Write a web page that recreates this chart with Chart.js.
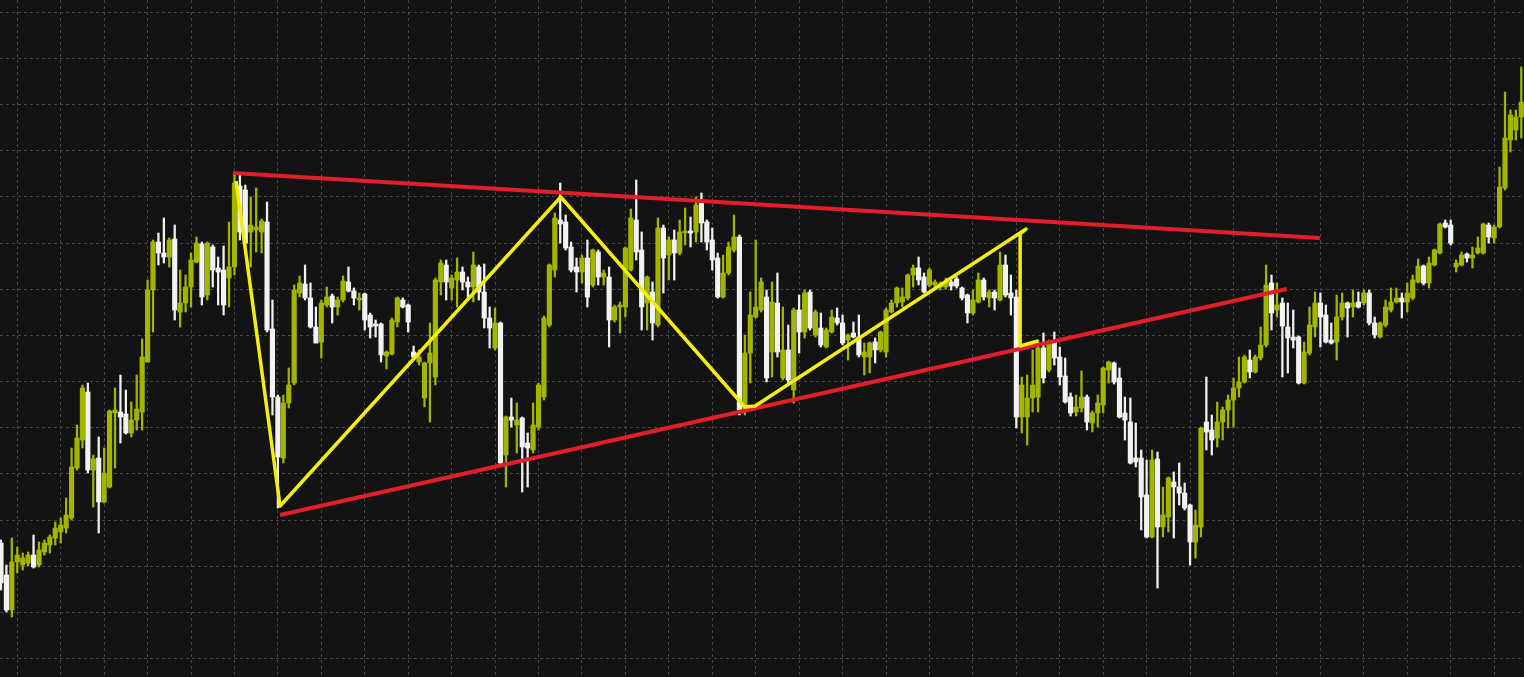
<!DOCTYPE html>
<html>
<head>
<meta charset="utf-8">
<title>Triangle breakout</title>
<script src="https://cdn.jsdelivr.net/npm/chart.js@4.4.1/dist/chart.umd.min.js"></script>
<style>
  html, body { margin: 0; padding: 0; background: #131313; overflow: hidden; }
  #wrap { width: 1524px; height: 677px; position: relative; }
</style>
</head>
<body>
<div id="wrap"><canvas id="chart"></canvas></div>
<script>
/* ═══════════════════════════════════════
   CANDLES + HAND-DRAWN PATTERN LINES
═══════════════════════════════════════ */

// ─── OHLC (points) ──────────────────────
const opens = [
  457,425,390,438,435,437,445,435,448,455,462,468,472,482,532,560,608,530,542,498,
  513,587,588,586,567,580,588,638,710,758,747,743,761,688,697,713,738,756,705,753,
  732,730,722,733,814,810,768,770,768,778,671,603,542,597,617,707,716,702,673,658,
  695,704,693,700,718,709,700,706,685,676,676,644,646,678,700,695,648,638,602,637,
  623,718,735,712,720,728,718,713,733,708,682,652,677,545,583,575,582,557,550,573,
  603,675,730,780,778,753,733,728,742,715,748,723,723,680,693,693,730,780,750,697,
  708,675,772,745,760,747,767,769,768,797,778,760,742,703,727,750,763,590,647,683,
  690,703,648,697,622,650,610,690,668,708,665,672,653,668,682,677,660,667,663,643,
  643,658,650,648,688,697,698,702,725,732,723,715,715,713,713,718,721,712,705,687,
  698,720,702,708,700,735,707,703,583,583,602,603,652,630,658,643,624,603,588,592,
  603,577,587,595,630,637,622,587,578,542,542,505,463,541,473,483,518,513,507,495,
  458,473,578,570,562,578,590,600,612,618,640,628,642,655,717,690,697,673,663,663,
  617,647,673,697,685,660,658,683,697,693,698,697,707,677,663,675,690,698,702,698,
  702,718,734,717,735,747,777,775,733,735,746,742,747,747,775,762,773,812,860,870,
  883
];
const highs = [
  460,435,462,453,447,448,465,458,460,465,478,482,502,552,575,615,617,545,563,552,
  590,612,625,610,598,625,661,720,760,767,782,762,775,730,725,747,763,758,758,755,
  743,754,778,825,825,815,803,812,781,798,700,605,605,632,715,724,735,717,693,700,
  713,706,703,724,733,712,707,707,687,680,677,649,682,703,702,696,654,650,638,677,
  722,740,740,725,742,733,723,748,735,736,693,692,678,584,602,597,583,567,597,617,
  684,736,787,817,785,758,742,745,760,751,750,730,733,695,698,753,791,820,768,724,
  718,782,775,763,770,780,792,783,803,807,780,772,747,745,758,785,765,665,708,760,
  722,710,718,727,693,675,692,705,710,710,690,687,672,690,692,685,666,678,685,657,
  658,662,669,692,700,713,712,726,735,743,727,732,720,718,722,720,723,713,706,710,
  727,722,710,710,748,745,725,710,623,625,650,660,667,660,668,653,642,607,605,629,
  605,589,605,633,639,638,632,603,602,577,550,540,550,548,513,523,528,537,517,496,
  490,573,623,585,598,593,605,622,643,645,650,645,673,735,725,717,702,697,690,664,
  658,693,708,707,695,677,705,707,698,710,708,710,710,683,678,700,712,712,707,717,
  725,741,735,743,751,777,780,780,740,748,747,753,763,777,777,775,833,908,890,890,
  933
];
const lows = [
  410,388,383,427,430,434,432,433,445,447,455,457,467,480,530,552,527,493,467,497,
  512,532,557,566,563,570,570,638,668,735,737,733,680,673,688,693,737,695,700,713,
  695,685,693,725,760,754,733,748,747,668,585,492,537,592,615,703,700,672,657,642,
  693,677,685,698,708,695,690,670,662,663,638,631,645,673,692,668,641,635,593,578,
  615,705,700,700,693,710,703,698,700,672,652,650,535,513,573,547,508,513,547,570,
  600,673,723,757,750,728,708,717,693,713,715,715,653,678,667,683,729,740,670,670,
  660,673,707,720,720,745,755,753,758,758,750,730,702,702,725,748,585,585,617,682,
  688,618,623,643,620,615,597,647,662,670,663,653,652,667,675,655,640,662,643,625,
  627,637,648,643,687,693,693,700,713,715,707,713,712,710,711,710,712,700,677,685,
  697,700,693,690,699,703,685,572,567,555,588,588,617,628,635,615,597,584,584,588,
  570,568,573,587,617,616,582,560,536,533,470,462,462,412,463,468,462,495,490,435,
  442,463,550,545,553,560,572,573,603,617,622,627,640,653,670,683,623,627,652,616,
  616,645,663,653,657,656,640,680,663,683,692,695,675,662,662,673,688,697,682,688,
  700,717,715,712,734,746,772,755,728,734,738,732,746,746,757,757,772,810,848,860,
  862
];
const closes = [
  417,390,438,445,442,445,433,450,457,463,472,475,485,533,562,612,530,541,498,527,
  589,590,583,567,580,591,643,710,758,747,743,760,690,697,713,740,757,703,757,730,
  728,695,733,817,768,757,775,773,779,670,603,543,597,615,710,717,702,673,657,697,
  703,693,700,719,709,702,702,680,673,674,645,648,680,702,693,678,643,643,637,647,
  720,737,718,722,728,718,713,735,708,682,672,677,537,583,580,580,553,552,575,615,
  682,735,782,776,752,730,728,742,703,750,723,727,680,693,695,752,782,748,693,723,
  677,772,742,760,747,768,769,767,795,777,758,740,703,727,753,763,590,647,685,693,
  718,622,698,648,650,620,690,668,707,672,688,655,670,683,677,657,665,663,645,648,
  657,650,668,690,697,712,703,725,732,720,708,730,718,716,718,714,714,702,687,700,
  720,703,708,702,735,705,702,583,615,602,615,652,622,657,642,623,598,587,593,603,
  578,587,597,632,638,618,583,580,537,538,503,463,540,473,485,522,513,507,492,458,
  475,572,568,560,578,590,600,612,618,643,628,643,655,715,687,695,674,662,660,617,
  648,675,697,683,658,657,683,697,692,697,693,707,677,665,677,693,698,702,698,707,
  720,734,717,737,750,776,773,757,737,745,742,745,752,776,763,773,813,862,885,883,
  898
];

// ─── DRAWN LINES (candle index, price) ──
const upperTrend = [[42.7, 827], [242.9, 762]];
const lowerTrend = [[51.4, 485], [236.8, 711]];
const zigzag = [
  [43.3, 819], [51.4, 494], [103.1, 803], [137.0, 593], [138.9, 594],
  [188.8, 771], [187.7, 766], [187.7, 654], [191.0, 659]
];

// ─── GRID ───────────────────────────────
const priceGrid = [988, 941.8, 895.6, 849.4, 803.2, 757, 710.8, 664.6, 618.4, 572.3, 526.1, 479.9, 433.7, 387.6, 341.4];
const timeGrid = [];
for (let k = 3; k <= 280; k += 8) timeGrid.push(k);

// ─── COLOURS ────────────────────────────
const UP = '#a2b600';
const DOWN = '#f2f2f2';
const RED = '#e41d2b';
const YELLOW = '#f4ee10';
const candleColor = opens.map((o, i) => closes[i] >= o ? UP : DOWN);

const toXY = pts => pts.map(p => ({ x: p[0], y: p[1] }));

const ctx = document.getElementById('chart').getContext('2d');
new Chart(ctx, {
  type: 'bar',
  data: {
    datasets: [
      {
        type: 'line',
        label: 'Zigzag',
        data: toXY(zigzag),
        borderColor: YELLOW,
        borderWidth: 3.5,
        borderJoinStyle: 'round',
        pointRadius: 0,
        tension: 0,
        fill: false,
        order: 0
      },
      {
        type: 'line',
        label: 'Resistance',
        data: toXY(upperTrend),
        borderColor: RED,
        borderWidth: 4,
        pointRadius: 0,
        fill: false,
        order: 1
      },
      {
        type: 'line',
        label: 'Support',
        data: toXY(lowerTrend),
        borderColor: RED,
        borderWidth: 4,
        pointRadius: 0,
        fill: false,
        order: 1
      },
      {
        label: 'Body',
        data: opens.map((o, i) => ({ x: i, y: [o, closes[i]] })),
        backgroundColor: candleColor,
        barThickness: 4.5,
        minBarLength: 2,
        grouped: false,
        borderWidth: 0,
        order: 2
      },
      {
        label: 'Wick',
        data: lows.map((l, i) => ({ x: i, y: [l, highs[i]] })),
        backgroundColor: candleColor,
        barThickness: 1.6,
        grouped: false,
        borderWidth: 0,
        order: 3
      }
    ]
  },
  options: {
    responsive: true,
    maintainAspectRatio: false,
    animation: false,
    layout: { padding: 0 },
    plugins: {
      legend: { display: false },
      tooltip: { enabled: false }
    },
    scales: {
      x: {
        type: 'linear',
        min: -0.18,
        max: 280.5,
        offset: false,
        afterBuildTicks: s => { s.ticks = timeGrid.map(v => ({ value: v })); },
        grid: { color: '#474747', lineWidth: 1, drawTicks: false, offset: false },
        border: { display: false, dash: [3, 3] },
        ticks: { display: false }
      },
      y: {
        type: 'linear',
        min: 323,
        max: 1000,
        afterBuildTicks: s => { s.ticks = priceGrid.map(v => ({ value: v })); },
        grid: { color: '#474747', lineWidth: 1, drawTicks: false },
        border: { display: false, dash: [3, 3] },
        ticks: { display: false }
      }
    }
  }
});
</script>
</body>
</html>
